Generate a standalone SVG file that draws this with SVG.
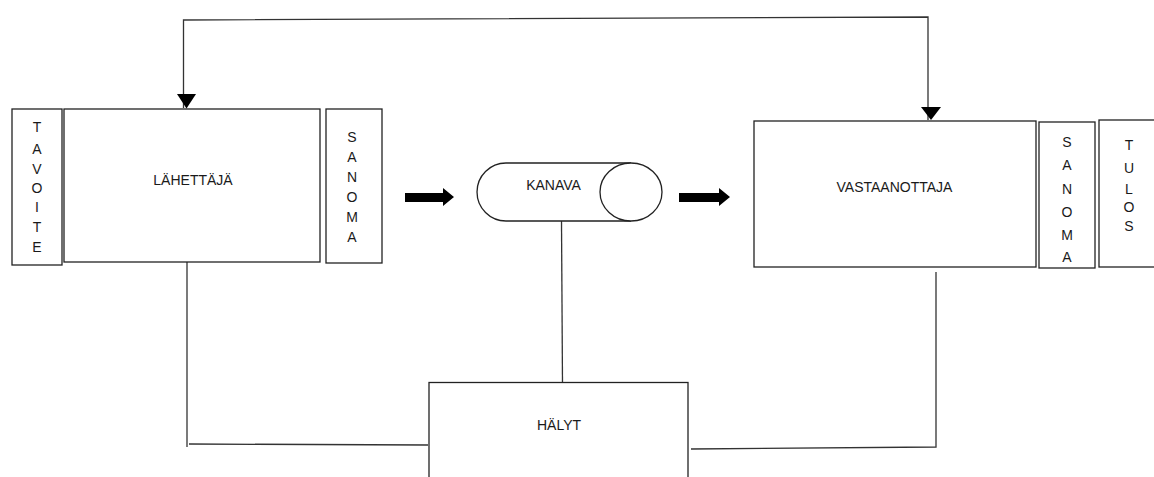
<svg xmlns="http://www.w3.org/2000/svg" width="1154" height="477" viewBox="0 0 1154 477">
  <style>
    .box { fill: #ffffff; stroke: #222222; stroke-width: 1.3; }
    .wire { fill: none; stroke: #333333; stroke-width: 1.3; }
    .label { font-family: "Liberation Sans", Arial, sans-serif; font-size: 14px; fill: #1a1a1a; text-anchor: middle; }
    .head { fill: #000000; }
    .fat { fill: #000000; }
  </style>
  <rect width="1154" height="477" fill="#ffffff"/>

  <!-- connectors -->
  <g id="connectors">
    <!-- feedback line over the top -->
    <polyline class="wire" points="183.5,108 183.5,20 928,17 928,120"/>
    <polygon class="head" points="177,94 196,94 186.5,108.5"/>
    <polygon class="head" points="921,107 941,107 931,120"/>
    <!-- sender and receiver down to alarms -->
    <polyline class="wire" points="187,262 187,447"/>
    <line class="wire" x1="189" y1="444" x2="428" y2="445"/>
    <polyline class="wire" points="936,272 936,447 691,449"/>
    <!-- channel down to alarms -->
    <line class="wire" x1="561.5" y1="221" x2="562.5" y2="385"/>
    <!-- block arrows -->
    <polygon class="fat" points="405,193 443,193 443,188 454,197 443,206 443,202 405,202"/>
    <polygon class="fat" points="679,193 719,193 719,188 730,197 719,206 719,202 679,202"/>
  </g>

  <!-- sender side -->
  <g id="tavoite">
    <rect class="box" x="12" y="109" width="50" height="156"/>
    <text class="label" x="37" y="132">T</text>
    <text class="label" x="37" y="154">A</text>
    <text class="label" x="37" y="174">V</text>
    <text class="label" x="37" y="193">O</text>
    <text class="label" x="37" y="212">I</text>
    <text class="label" x="37" y="232">T</text>
    <text class="label" x="37" y="252">E</text>
  </g>
  <g id="lahettaja">
    <rect class="box" x="64" y="109" width="256" height="153"/>
    <text class="label" x="193" y="185">LÄHETTÄJÄ</text>
  </g>
  <g id="sanoma-out">
    <rect class="box" x="326" y="109" width="56" height="154"/>
    <text class="label" x="352" y="142">S</text>
    <text class="label" x="352" y="162">A</text>
    <text class="label" x="352" y="182">N</text>
    <text class="label" x="352" y="202">O</text>
    <text class="label" x="352" y="222">M</text>
    <text class="label" x="352" y="242">A</text>
  </g>

  <!-- channel -->
  <g id="kanava">
    <path class="box" d="M631,163 L506,163 A29,29 0 0 0 506,221 L631,221"/>
    <ellipse class="box" cx="631" cy="192" rx="31" ry="29"/>
    <text class="label" x="553.5" y="190">KANAVA</text>
  </g>

  <!-- receiver side -->
  <g id="vastaanottaja">
    <rect class="box" x="754" y="121" width="282" height="146"/>
    <text class="label" x="894.5" y="192">VASTAANOTTAJA</text>
  </g>
  <g id="sanoma-in">
    <rect class="box" x="1039" y="122" width="56" height="146"/>
    <text class="label" x="1067" y="147">S</text>
    <text class="label" x="1067" y="170">A</text>
    <text class="label" x="1067" y="194">N</text>
    <text class="label" x="1067" y="217">O</text>
    <text class="label" x="1067" y="240">M</text>
    <text class="label" x="1067" y="262">A</text>
  </g>
  <g id="tulos">
    <rect class="box" x="1099" y="120" width="60" height="147"/>
    <text class="label" x="1129" y="150">T</text>
    <text class="label" x="1129" y="173">U</text>
    <text class="label" x="1129" y="194">L</text>
    <text class="label" x="1129" y="212">O</text>
    <text class="label" x="1129" y="231">S</text>
  </g>

  <!-- alarms -->
  <g id="halyt">
    <rect class="box" x="429" y="382.5" width="259" height="110"/>
    <text class="label" x="559" y="430">HÄLYT</text>
  </g>
</svg>
